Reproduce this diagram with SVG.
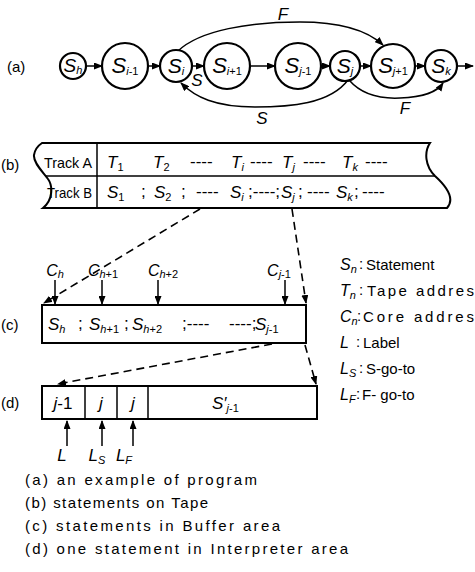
<svg xmlns="http://www.w3.org/2000/svg" width="475" height="572" viewBox="0 0 475 572">
<style>
.t{font-family:"Liberation Sans",Arial,sans-serif;fill:#000;font-size:15px}
.i{font-style:italic}
.sb{font-size:11px}
.big{font-size:17px}
.nd{fill:#fff;stroke:#000;stroke-width:2.2}
.ln{fill:none;stroke:#000;stroke-width:1.5}
.bx{fill:#fff;stroke:#000;stroke-width:2}
.ds{fill:none;stroke:#000;stroke-width:1.6;stroke-dasharray:8,5}
</style>
<defs>
<marker id="ah" markerUnits="userSpaceOnUse" markerWidth="9" markerHeight="7" refX="8" refY="3.5" orient="auto">
<path d="M0,0 L9,3.5 L0,7 z" fill="#000"/>
</marker>
</defs>
<rect width="475" height="572" fill="#fff"/>

<!-- part labels -->
<g id="part-labels" class="t">
<text x="7" y="72">(a)</text>
<text x="1" y="170">(b)</text>
<text x="1" y="330">(c)</text>
<text x="1" y="408">(d)</text>
</g>

<!-- connectors -->
<g id="connectors">
<line class="ln" x1="86" y1="66" x2="102" y2="66" marker-end="url(#ah)"/>
<line class="ln" x1="148" y1="66" x2="160" y2="66" marker-end="url(#ah)"/>
<line class="ln" x1="192" y1="66" x2="204" y2="66" marker-end="url(#ah)"/>
<line class="ln" x1="250" y1="66" x2="275" y2="66" marker-end="url(#ah)"/>
<line class="ln" x1="321" y1="66" x2="330" y2="66" marker-end="url(#ah)"/>
<line class="ln" x1="360" y1="66" x2="371" y2="66" marker-end="url(#ah)"/>
<line class="ln" x1="415" y1="66" x2="425" y2="66" marker-end="url(#ah)"/>
<line class="ln" x1="457" y1="66" x2="473" y2="66" marker-end="url(#ah)"/>
<path class="ln" d="M178,51 C200,30 250,22 300,22 C340,22 368,31 383,45" marker-end="url(#ah)"/>
<path class="ln" d="M348,80 C330,104 290,107 255,107 C215,107 195,97 181,83" marker-end="url(#ah)"/>
<path class="ln" d="M349,80 C362,95 380,99 400,98 C425,97 437,92 443,83" marker-end="url(#ah)"/>
<text class="t i big" x="283" y="20" text-anchor="middle">F</text>
<text class="t i big" x="197" y="86" text-anchor="middle">S</text>
<text class="t i big" x="262" y="124" text-anchor="middle">S</text>
<text class="t i big" x="405" y="114" text-anchor="middle">F</text>
<!-- tape to buffer -->
<line class="ds" x1="200" y1="209" x2="44" y2="303" marker-end="url(#ah)"/>
<line class="ds" x1="292" y1="209" x2="306" y2="303" marker-end="url(#ah)"/>
<!-- buffer to interpreter -->
<line class="ds" x1="272" y1="344" x2="58" y2="384" marker-end="url(#ah)"/>
<line class="ds" x1="305" y1="345" x2="316" y2="384" marker-end="url(#ah)"/>
<!-- core address arrows -->
<line class="ln" x1="55" y1="280" x2="55" y2="304" marker-end="url(#ah)"/>
<line class="ln" x1="102" y1="280" x2="102" y2="304" marker-end="url(#ah)"/>
<line class="ln" x1="158" y1="280" x2="158" y2="304" marker-end="url(#ah)"/>
<line class="ln" x1="285" y1="280" x2="285" y2="304" marker-end="url(#ah)"/>
<!-- label arrows -->
<line class="ln" x1="67" y1="446" x2="67" y2="421" marker-end="url(#ah)"/>
<line class="ln" x1="102" y1="446" x2="102" y2="421" marker-end="url(#ah)"/>
<line class="ln" x1="133" y1="446" x2="133" y2="421" marker-end="url(#ah)"/>
</g>

<!-- (a) nodes -->
<g id="n-Sh"><circle class="nd" cx="73" cy="66" r="13"/><text class="t" x="73" y="72" text-anchor="middle"><tspan class="i" font-size="19">S</tspan><tspan class="i sb" dy="2">h</tspan></text></g>
<g id="n-Si-1"><circle class="nd" cx="125" cy="66" r="23"/><text class="t" x="125" y="73" text-anchor="middle"><tspan class="i" font-size="22">S</tspan><tspan class="sb" dy="2"><tspan class="i">i</tspan>-1</tspan></text></g>
<g id="n-Si"><circle class="nd" cx="176" cy="66" r="16"/><text class="t" x="176" y="73" text-anchor="middle"><tspan class="i" font-size="21">S</tspan><tspan class="i sb" dy="2">i</tspan></text></g>
<g id="n-Si+1"><circle class="nd" cx="227" cy="66" r="23"/><text class="t" x="227" y="73" text-anchor="middle"><tspan class="i" font-size="22">S</tspan><tspan class="sb" dy="2"><tspan class="i">i</tspan>+1</tspan></text></g>
<g id="n-Sj-1"><circle class="nd" cx="298" cy="66" r="23"/><text class="t" x="298" y="73" text-anchor="middle"><tspan class="i" font-size="22">S</tspan><tspan class="sb" dy="2"><tspan class="i">j</tspan>-1</tspan></text></g>
<g id="n-Sj"><circle class="nd" cx="345" cy="66" r="15"/><text class="t" x="345" y="73" text-anchor="middle"><tspan class="i" font-size="21">S</tspan><tspan class="i sb" dy="2">j</tspan></text></g>
<g id="n-Sj+1"><circle class="nd" cx="393" cy="66" r="22"/><text class="t" x="393" y="73" text-anchor="middle"><tspan class="i" font-size="22">S</tspan><tspan class="sb" dy="2"><tspan class="i">j</tspan>+1</tspan></text></g>
<g id="n-Sk"><circle class="nd" cx="441" cy="66" r="16"/><text class="t" x="441" y="73" text-anchor="middle"><tspan class="i" font-size="21">S</tspan><tspan class="i sb" dy="2">k</tspan></text></g>

<!-- (b) tape -->
<g id="tape">
<path class="bx" d="M42,143 L430,143 C424,152 425,166 435,176 C446,186 456,198 447,208 L43,208 C53,200 53,186 48,179 C44,173 33,163 34,155 C35,149 39,145 42,143 Z"/>
<line class="ln" x1="46" y1="176" x2="435" y2="176"/>
<line class="ln" x1="97" y1="143" x2="97" y2="208"/>
<text class="t" x="44" y="168" font-size="14" textLength="48" lengthAdjust="spacingAndGlyphs">Track A</text>
<text class="t" x="47" y="198" font-size="14" textLength="45" lengthAdjust="spacingAndGlyphs">Track B</text>
<g class="t big">
<text x="107" y="168"><tspan class="i">T</tspan><tspan class="sb" dy="3">1</tspan></text>
<text x="153" y="168"><tspan class="i">T</tspan><tspan class="sb" dy="3">2</tspan></text>
<text x="190" y="167">----</text>
<text x="231" y="168"><tspan class="i">T</tspan><tspan class="i sb" dy="3">i</tspan></text>
<text x="250" y="167">----</text>
<text x="282" y="168"><tspan class="i">T</tspan><tspan class="i sb" dy="3">j</tspan></text>
<text x="303" y="167">----</text>
<text x="342" y="168"><tspan class="i">T</tspan><tspan class="i sb" dy="3">k</tspan></text>
<text x="365" y="167">----</text>
<text x="107" y="198"><tspan class="i">S</tspan><tspan class="sb" dy="3">1</tspan></text>
<text x="141" y="197">;</text>
<text x="154" y="198"><tspan class="i">S</tspan><tspan class="sb" dy="3">2</tspan></text>
<text x="181" y="197">;</text>
<text x="196" y="197">----</text>
<text x="230" y="198"><tspan class="i">S</tspan><tspan class="i sb" dy="3">i</tspan></text>
<text x="248" y="197">;----;</text>
<text x="281" y="198"><tspan class="i">S</tspan><tspan class="i sb" dy="3">j</tspan></text>
<text x="298" y="197">;</text>
<text x="307" y="197">----</text>
<text x="336" y="198"><tspan class="i">S</tspan><tspan class="i sb" dy="3">k</tspan></text>
<text x="354" y="197">;</text>
<text x="362" y="197">----</text>
</g>
</g>

<!-- (c) buffer -->
<g id="buffer">
<rect class="bx" x="42" y="305" width="264" height="38"/>
<g class="t">
<text x="55" y="276" text-anchor="middle"><tspan class="i" font-size="16">C</tspan><tspan class="i sb" dy="2">h</tspan></text>
<text x="103" y="276" text-anchor="middle"><tspan class="i" font-size="16">C</tspan><tspan class="sb" dy="2"><tspan class="i">h</tspan>+1</tspan></text>
<text x="163" y="276" text-anchor="middle"><tspan class="i" font-size="16">C</tspan><tspan class="sb" dy="2"><tspan class="i">h</tspan>+2</tspan></text>
<text x="279" y="276" text-anchor="middle"><tspan class="i" font-size="16">C</tspan><tspan class="sb" dy="2"><tspan class="i">j</tspan>-1</tspan></text>
</g>
<g class="t big">
<text x="48" y="330"><tspan class="i">S</tspan><tspan class="i sb" dy="3">h</tspan></text>
<text x="78" y="329">;</text>
<text x="89" y="330"><tspan class="i">S</tspan><tspan class="sb" dy="3"><tspan class="i">h</tspan>+1</tspan></text>
<text x="124" y="329">;</text>
<text x="132" y="330"><tspan class="i">S</tspan><tspan class="sb" dy="3"><tspan class="i">h</tspan>+2</tspan></text>
<text x="182" y="329">;----</text>
<text x="229" y="329">----;</text>
<text x="255" y="330"><tspan class="i">S</tspan><tspan class="sb" dy="3"><tspan class="i">j</tspan>-1</tspan></text>
</g>
</g>

<!-- (d) interpreter -->
<g id="interpreter">
<rect class="bx" x="42" y="386" width="275" height="33"/>
<line class="ln" x1="85" y1="386" x2="85" y2="419"/>
<line class="ln" x1="117" y1="386" x2="117" y2="419"/>
<line class="ln" x1="148" y1="386" x2="148" y2="419"/>
<g class="t big">
<text x="63" y="409" text-anchor="middle"><tspan class="i">j</tspan>-1</text>
<text x="101" y="409" text-anchor="middle" class="i">j</text>
<text x="133" y="409" text-anchor="middle" class="i">j</text>
<text x="212" y="409"><tspan class="i">S′</tspan><tspan class="sb" dy="3"><tspan class="i">j</tspan>-1</tspan></text>
<text x="62" y="461" text-anchor="middle" class="i">L</text>
<text x="97" y="461" text-anchor="middle"><tspan class="i">L</tspan><tspan class="i sb" dy="3">S</tspan></text>
<text x="124" y="461" text-anchor="middle"><tspan class="i">L</tspan><tspan class="i sb" dy="3">F</tspan></text>
</g>
</g>

<!-- symbol legend -->
<g id="legend-symbols" class="t">
<text x="340" y="270"><tspan class="i" font-size="16">S</tspan><tspan class="i sb" dy="3">n</tspan></text>
<text x="359" y="269">:</text>
<text x="366" y="270">Statement</text>
<text x="340" y="296"><tspan class="i" font-size="16">T</tspan><tspan class="i sb" dy="3">n</tspan></text>
<text x="359" y="295">:</text>
<text x="367" y="296" textLength="107" lengthAdjust="spacing">Tape  addres</text>
<text x="340" y="322"><tspan class="i" font-size="16">C</tspan><tspan class="i sb" dy="3">n</tspan></text>
<text x="357" y="321">:</text>
<text x="363" y="322" textLength="111" lengthAdjust="spacing">Core  addres</text>
<text x="340" y="348" class="i" font-size="16">L</text>
<text x="356" y="347">:</text>
<text x="363" y="348">Label</text>
<text x="340" y="374"><tspan class="i" font-size="16">L</tspan><tspan class="i sb" dy="3">S</tspan></text>
<text x="359" y="373">:</text>
<text x="366" y="374">S-go-to</text>
<text x="340" y="400"><tspan class="i" font-size="16">L</tspan><tspan class="i sb" dy="3">F</tspan></text>
<text x="356" y="399">:</text>
<text x="362" y="400">F- go-to</text>
</g>

<!-- caption legend -->
<g id="legend-captions" class="t">
<text x="25" y="485" textLength="232" lengthAdjust="spacing">(a) an example of program</text>
<text x="25" y="508" textLength="183" lengthAdjust="spacing">(b) statements  on  Tape</text>
<text x="25" y="531" textLength="255" lengthAdjust="spacing">(c) statements  in  Buffer area</text>
<text x="25" y="554" textLength="323" lengthAdjust="spacing">(d) one statement in Interpreter area</text>
</g>
</svg>
